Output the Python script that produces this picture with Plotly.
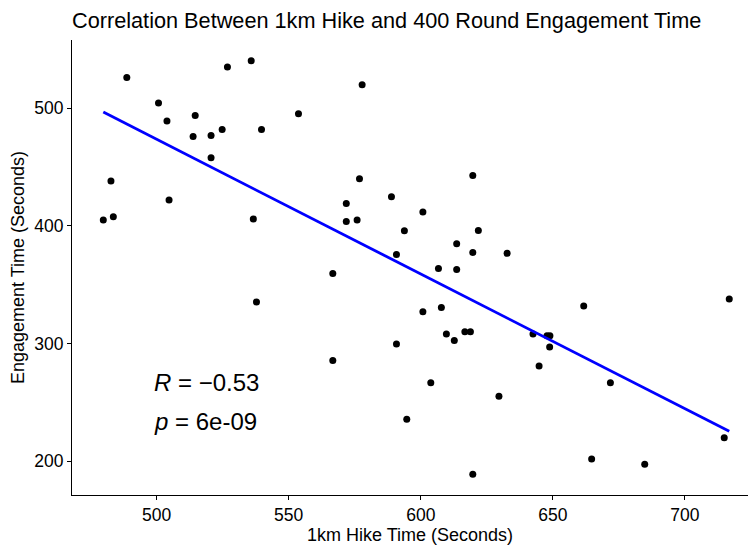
import numpy as np
import plotly.graph_objects as go

# 1km hike time (s) and 400-round engagement time (s) per participant
hike_time = [
    488.7, 500.7, 503.9, 514.6, 513.8, 520.6, 524.8, 520.6, 526.8, 535.8,
    539.7, 553.7, 577.8, 482.7, 479.8, 483.6, 504.7, 536.6, 537.8, 571.8,
    571.8, 576.8, 575.9, 588.9, 593.8, 600.8, 619.7, 621.8, 613.6, 619.7,
    632.7, 590.8, 566.7, 606.7, 613.6, 600.8, 607.8, 609.7, 612.7, 616.7,
    618.8, 642.5, 647.8, 648.9, 648.8, 644.8, 661.7, 716.8, 671.8, 714.9,
    664.7, 684.8, 590.8, 566.7, 603.8, 629.6, 594.7, 619.7,
]
engagement_time = [
    526.0, 504.2, 489.0, 493.7, 475.9, 476.7, 481.8, 457.8, 534.8, 540.2,
    481.8, 495.2, 519.8, 438.0, 404.9, 407.7, 421.9, 405.8, 335.3, 419.0,
    403.7, 440.0, 404.9, 424.7, 395.8, 411.7, 442.8, 396.1, 384.8, 377.4,
    376.6, 375.7, 359.6, 363.8, 363.0, 327.1, 330.7, 308.1, 302.7, 310.1,
    310.1, 308.1, 306.7, 306.7, 297.1, 281.0, 331.9, 337.9, 266.8, 220.1,
    202.0, 197.5, 299.7, 285.7, 266.8, 255.2, 235.7, 189.0,
]

# Correlation summary shown on the plot
r_label = "−0.53"
p_label = "6e-09"

x_ticks = [500, 550, 600, 650, 700]
y_ticks = [200, 300, 400, 500]

x = np.array(hike_time)
y = np.array(engagement_time)

# Least-squares fit across the observed hike-time span
slope, intercept = np.polyfit(x, y, 1)
fit_x = np.array([x.min(), x.max()])
fit_y = intercept + slope * fit_x

# ggplot-style 5% padding on the ranges
y_pad = 0.05 * (y.max() - y.min())
x_pad = 0.05 * (x.max() - x.min())

fig = go.Figure()
fig.add_trace(go.Scatter(
    x=x, y=y, mode="markers",
    marker=dict(color="black", size=7),
    showlegend=False,
))
fig.add_trace(go.Scatter(
    x=fit_x, y=fit_y, mode="lines",
    line=dict(color="#0000FF", width=2.8),
    showlegend=False,
))

font_family = "Liberation Sans, Arial, sans-serif"

fig.add_annotation(
    x=x.min() + 18.5, y=266.8, xref="x", yref="y",
    text="<i>R</i> = " + r_label, showarrow=False,
    xanchor="left", yanchor="middle",
    font=dict(family=font_family, size=24, color="black"),
)
fig.add_annotation(
    x=x.min() + 18.5, y=233.7, xref="x", yref="y",
    text="<i>p</i> = " + p_label, showarrow=False,
    xanchor="left", yanchor="middle",
    font=dict(family=font_family, size=24, color="black"),
)

axis_common = dict(
    showgrid=False, zeroline=False,
    showline=True, linecolor="black", linewidth=1.1,
    ticks="outside", ticklen=4, tickwidth=1.1, tickcolor="black",
    tickfont=dict(family=font_family, size=17.5, color="black"),
    title_font=dict(family=font_family, size=18, color="black"),
)

fig.update_layout(
    width=748, height=546,
    margin=dict(l=72, r=0, t=40, b=51),
    paper_bgcolor="white", plot_bgcolor="white",
    font=dict(family=font_family, color="black"),
    title=dict(
        text="Correlation Between 1km Hike and 400 Round Engagement Time",
        x=72 / 748, xref="container", xanchor="left",
        y=1 - 20 / 546, yref="container", yanchor="middle",
        font=dict(family=font_family, size=21.7, color="black"),
    ),
    xaxis=dict(
        axis_common,
        range=[x.min() - x_pad, 723.9],
        tickvals=x_ticks,
        title=dict(text="1km Hike Time (Seconds)", standoff=4),
    ),
    yaxis=dict(
        axis_common,
        range=[y.min() - y_pad, y.max() + y_pad],
        tickvals=y_ticks,
        title=dict(text="Engagement Time (Seconds)", standoff=4),
    ),
)

fig.write_html("out.html")
